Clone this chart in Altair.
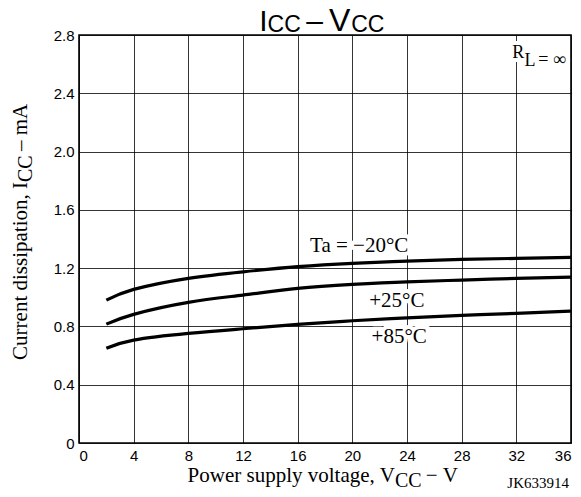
import altair as alt
import pandas as pd

# ---- data ----
vcc = [2, 4, 8, 12, 16, 20, 24, 28, 32, 36]
icc_m20 = [0.98, 1.054, 1.13, 1.175, 1.21, 1.233, 1.248, 1.26, 1.267, 1.274]
icc_25 = [0.816, 0.883, 0.965, 1.015, 1.061, 1.088, 1.106, 1.118, 1.13, 1.139]
icc_85 = [0.65, 0.706, 0.752, 0.784, 0.814, 0.839, 0.859, 0.876, 0.89, 0.905]
series = ["-20", "+25", "+85"]
x_ticks = [0, 4, 8, 12, 16, 20, 24, 28, 32, 36]
y_ticks = [0, 0.4, 0.8, 1.2, 1.6, 2.0, 2.4, 2.8]

curve_labels = ["Ta = −20°C", "+25°C", "+85°C"]

rows = []
for s, vals in zip(series, [icc_m20, icc_25, icc_85]):
    for v, i in zip(vcc, vals):
        rows.append({"v": v, "i": i, "s": s})
df = pd.DataFrame(rows)

NB = "\u00a0"

# ---- annotation placements (data coordinates) ----
lab = pd.DataFrame({"t": curve_labels, "x": [20.5, 23.26, 23.43], "y": [1.313, 0.935, 0.684]})

# text pieces: text, x, y, font, size, align, angle
pieces = [
    # chart title  I_CC – V_CC
    ("I", 13.18, 2.830, "Liberation Sans", 30, "left", 0),
    ("CC", 13.80, 2.820, "Liberation Sans", 23, "left", 0),
    ("–", 17.24, 2.830, "Liberation Sans", 30, "center", 0),
    ("V", 18.30, 2.830, "Liberation Sans", 32, "left", 0),
    ("CC", 19.92, 2.820, "Liberation Sans", 23, "left", 0),
    # R_L = ∞
    ("R", 31.71, 2.640, "Liberation Serif", 18, "left", 0),
    ("L", 32.59, 2.587, "Liberation Serif", 18, "left", 0),
    ("= ∞", 33.61, 2.594, "Liberation Serif", 18, "left", 0),
    # x axis title
    ("Power supply voltage, V", 23.11, -0.268, "Liberation Serif", 21, "right", 0),
    ("CC", 23.12, -0.305, "Liberation Serif", 20, "left", 0),
    (NB + "−" + NB + "V", 25.37, -0.268, "Liberation Serif", 21, "left", 0),
    # y axis title
    ("Current dissipation, I", -3.807, 1.791, "Liberation Serif", 21, "right", 270),
    ("CC", -3.441, 1.791, "Liberation Serif", 20, "left", 270),
    (NB + "–" + NB + "mA", -3.807, 2.004, "Liberation Serif", 21, "left", 270),
    # figure code
    ("JK633914", 33.6, -0.309, "Liberation Serif", 15, "center", 0),
]

xs = alt.Scale(domain=[0, 36], nice=False)
ys = alt.Scale(domain=[0, 2.8], nice=False)

lines = alt.Chart(df).mark_line(color="black", strokeWidth=3.2, interpolate="natural").encode(
    x=alt.X("v:Q", scale=xs, axis=alt.Axis(values=x_ticks, title=None)),
    y=alt.Y("i:Q", scale=ys, axis=alt.Axis(values=y_ticks, title=None,
                                            labelExpr="datum.value == 0 ? '0' : format(datum.value, '.1f')")),
    detail="s:N",
)

enc = dict(x=alt.X("x:Q", scale=xs), y=alt.Y("y:Q", scale=ys), text="t:N")

halo = alt.Chart(lab).mark_text(font="Liberation Serif", fontSize=21, baseline="alphabetic", color="white",
                                stroke="white", strokeWidth=8).encode(**enc)
labels = alt.Chart(lab).mark_text(font="Liberation Serif", fontSize=21, baseline="alphabetic",
                                  color="black").encode(**enc)

layers = [lines, halo, labels]
for idx, (t, x, y, f, sz, al, ang) in enumerate(pieces):
    d = pd.DataFrame({"t": [t], "x": [x], "y": [y]})
    if 5 <= idx <= 7:
        layers.append(alt.Chart(d).mark_text(font=f, fontSize=sz, align=al, angle=ang, baseline="alphabetic",
                                             color="white", stroke="white", strokeWidth=8).encode(**enc))
for idx, (t, x, y, f, sz, al, ang) in enumerate(pieces):
    d = pd.DataFrame({"t": [t], "x": [x], "y": [y]})
    layers.append(alt.Chart(d).mark_text(font=f, fontSize=sz, align=al, angle=ang, baseline="alphabetic",
                                         color="black").encode(**enc))

chart = alt.layer(*layers).properties(
    width=492, height=408,
    autosize=alt.AutoSizeParams(type="none"),
    padding={"left": 71, "top": 27, "right": 2, "bottom": 46},
).configure_view(stroke="black", strokeWidth=1.6).configure_axis(
    grid=True, gridColor="black", gridWidth=0.8, gridOpacity=1, domain=False, ticks=False,
    labelFont="Liberation Sans", labelFontSize=15, labelColor="black",
).configure_axisX(labelPadding=5).configure_axisY(labelPadding=5)

chart.save("out.html", embed_options={"renderer": "svg", "actions": False})
